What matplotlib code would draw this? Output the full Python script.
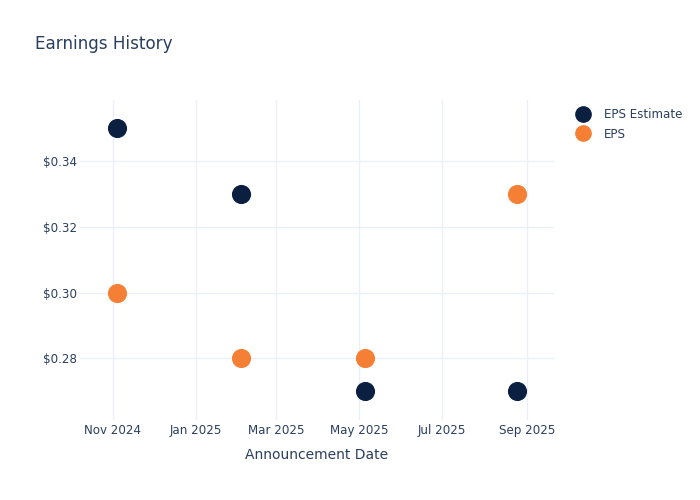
import pandas as pd
import matplotlib.pyplot as plt
import matplotlib.dates as mdates
from matplotlib.ticker import FuncFormatter
from matplotlib.lines import Line2D

# Earnings data
dates = pd.to_datetime(['2024-11-04', '2025-02-03', '2025-05-05', '2025-08-25'])
eps_estimate = [0.35, 0.33, 0.27, 0.27]
eps_actual = [0.30, 0.28, 0.28, 0.33]

navy = '#0b1f41'
orange = '#f58035'
text_color = '#2a3f5f'
grid_color = '#ebf0f8'

fig = plt.figure(figsize=(7, 5), dpi=100)
ax = fig.add_axes([80 / 700, 1 - 420 / 500, 474 / 700, 320 / 500])

ax.scatter(dates, eps_estimate, s=190, color=navy, zorder=3, linewidths=0)
ax.scatter(dates, eps_actual, s=190, color=orange, zorder=3, linewidths=0)

ax.set_xlim(pd.Timestamp('2024-10-08'), pd.Timestamp('2025-09-21'))
ax.set_ylim(0.2612, 0.3586)

ax.xaxis.set_major_locator(mdates.MonthLocator(bymonth=[1, 3, 5, 7, 9, 11]))
ax.xaxis.set_major_formatter(mdates.DateFormatter('%b %Y'))
ax.set_yticks([0.28, 0.30, 0.32, 0.34])
ax.yaxis.set_major_formatter(FuncFormatter(lambda v, p: f'${v:.2f}'))

ax.grid(True, color=grid_color, linewidth=1)
ax.set_axisbelow(True)
for s in ax.spines.values():
    s.set_visible(False)
ax.tick_params(length=0, colors=text_color, labelsize=8.6)
ax.tick_params(axis='x', pad=3)
ax.tick_params(axis='y', pad=2)

ax.set_xlabel('Announcement Date', color=text_color, fontsize=10, labelpad=8)
fig.text(35 / 700, 1 - 44 / 500, 'Earnings History', color=text_color, fontsize=12.1, va='center')

handles = [
    Line2D([], [], marker='o', linestyle='', markersize=11, color=navy, label='EPS Estimate'),
    Line2D([], [], marker='o', linestyle='', markersize=11, color=orange, label='EPS'),
]
leg = fig.legend(handles=handles, loc='upper left', bbox_to_anchor=(576 / 700, 1 - 108 / 500),
                 frameon=False, fontsize=8.6, handletextpad=1.15, labelspacing=0.55,
                 borderpad=0, borderaxespad=0, handlelength=1.2)
for t in leg.get_texts():
    t.set_color(text_color)

fig.savefig('out.png', dpi=100)
